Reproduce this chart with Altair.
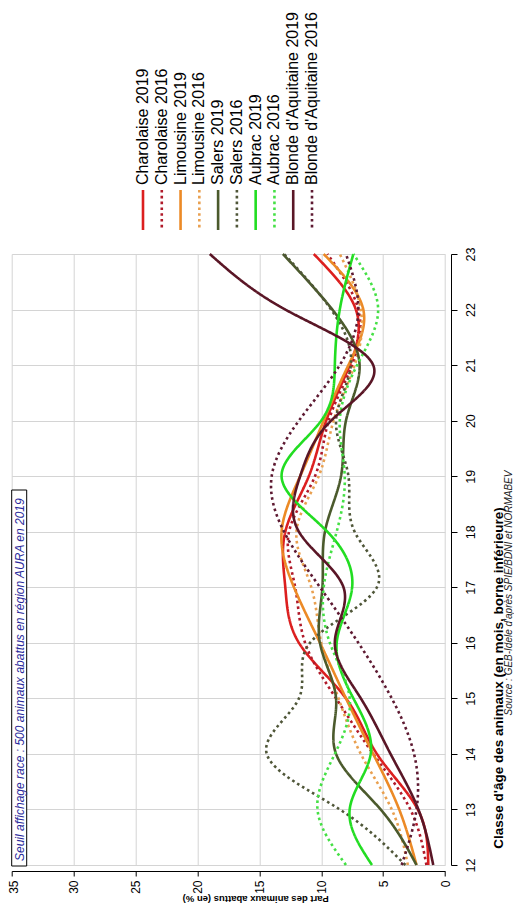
import altair as alt
import pandas as pd

# ---------------- data ----------------
ages = list(range(12, 24))
pct_ticks = [0, 5, 10, 15, 20, 25, 30, 35]

series_names = [
    "Charolaise 2019", "Charolaise 2016",
    "Limousine 2019", "Limousine 2016",
    "Salers 2019", "Salers 2016",
    "Aubrac 2019", "Aubrac 2016",
    "Blonde d'Aquitaine 2019", "Blonde d'Aquitaine 2016",
]

#                    12    13    14    15    16    17    18    19    20    21    22    23
charolaise_2019 = [1.35, 2.2, 5.5, 8.0, 11.8, 12.9, 12.9, 11.0, 9.6, 7.7, 7.2, 10.6]
charolaise_2016 = [1.5, 2.8, 5.8, 8.8, 11.3, 12.1, 12.6, 10.5, 9.4, 7.5, 7.0, 9.5]
limousine_2019 = [2.3, 3.7, 5.8, 8.0, 10.1, 12.2, 13.2, 11.7, 9.8, 7.8, 6.6, 9.8]
limousine_2016 = [3.0, 4.3, 6.8, 8.6, 10.0, 10.8, 12.0, 10.2, 9.0, 7.3, 6.8, 8.5]
salers_2019 = [2.3, 5.2, 8.8, 8.8, 10.1, 9.9, 9.7, 8.4, 8.0, 6.9, 9.1, 13.1]
salers_2016 = [3.2, 8.5, 14.4, 11.8, 10.9, 5.5, 7.3, 7.8, 8.8, 7.6, 9.2, 13.0]
aubrac_2019 = [5.9, 7.7, 6.0, 7.4, 8.75, 7.5, 9.5, 13.2, 10.0, 8.9, 8.5, 7.4]
aubrac_2016 = [8.0, 10.3, 8.9, 7.7, 9.3, 9.8, 8.75, 8.1, 8.5, 7.1, 5.4, 7.4]
blonde_2019 = [0.95, 2.15, 4.4, 6.8, 8.9, 8.2, 11.8, 11.7, 9.2, 5.8, 12.9, 19.0]
blonde_2016 = [3.5, 2.3, 2.5, 4.3, 7.0, 10.1, 13.0, 14.0, 11.8, 8.5, 7.0, 8.0]

all_values = [
    charolaise_2019, charolaise_2016, limousine_2019, limousine_2016,
    salers_2019, salers_2016, aubrac_2019, aubrac_2016, blonde_2019, blonde_2016,
]

series_colors = [
    "#dc1f1f", "#b01a2a",
    "#ec8a26", "#e9a050",
    "#4b5a2c", "#4f5638",
    "#22dd22", "#45e045",
    "#5a1626", "#5e1a32",
]
SOLID = [1, 0]
DOT = [2.6, 3.2]
series_dashes = [SOLID, DOT] * 5

annotation_text = "Seuil affichage race :  500 animaux abattus en région AURA en 2019"
y_title = "Classe d'âge des animaux (en mois, borne inférieure)"
x_title = "Part des animaux abattus (en %)"
source_text = "Source : GEB-Idele d'après SPIE/BDNI et NORMABEV"

rows = []
for name, vals in zip(series_names, all_values):
    for a, v in zip(ages, vals):
        rows.append({"serie": name, "age": a, "part": v})
df = pd.DataFrame(rows)

FONT = "Liberation Sans"
W, H = 433.3, 611

color_scale = alt.Scale(domain=series_names, range=series_colors)
dash_scale = alt.Scale(domain=series_names, range=series_dashes)

lines = alt.Chart(df).mark_line(interpolate="natural", strokeWidth=2.6).encode(
    x=alt.X(
        "part:Q",
        scale=alt.Scale(domain=[0, 35], reverse=True, nice=False, zero=True),
        axis=alt.Axis(
            orient="bottom", values=pct_ticks, title=None, offset=6,
            labelAngle=270, labelAlign="right", labelBaseline="middle",
            labelPadding=4, tickSize=5, labelFlush=False, labelOverlap=False,
            labelOffset={"condition": {"test": "datum.value == 35", "value": 1.5}, "value": 0},
            labelFont=FONT, labelFontSize=12, labelColor="black",
            domainColor="black", tickColor="black",
            grid=True, gridColor="#d4d4d4", gridWidth=1,
        ),
    ),
    y=alt.Y(
        "age:Q",
        scale=alt.Scale(domain=[12, 23], nice=False, zero=False),
        axis=alt.Axis(
            orient="right", values=ages, title=None, offset=6,
            labelAngle=270, labelAlign="center", labelBaseline="top",
            labelPadding=7, tickSize=6, labelFlush=False, labelOverlap=False,
            labelFont=FONT, labelFontSize=12.5, labelColor="black",
            domainColor="black", tickColor="black",
            grid=True, gridColor="#d4d4d4", gridWidth=1,
        ),
    ),
    color=alt.Color("serie:N", scale=color_scale, legend=None),
    strokeDash=alt.StrokeDash("serie:N", scale=dash_scale, legend=None),
    order=alt.Order("age:Q"),
    detail="serie:N",
)

leg_df = pd.DataFrame({"serie": series_names})
leg_x = alt.X(
    "serie:N",
    scale=alt.Scale(type="point", domain=series_names, range=[131.3, 300.3], padding=0),
    axis=None,
)

legend_rules = alt.Chart(leg_df).mark_rule(strokeWidth=2.6).encode(
    x=leg_x,
    y=alt.value(-64),
    y2=alt.value(-24),
    color=alt.Color("serie:N", scale=color_scale, legend=None),
    strokeDash=alt.StrokeDash("serie:N", scale=dash_scale, legend=None),
)

legend_text = alt.Chart(leg_df).mark_text(
    angle=270, align="left", baseline="middle", font=FONT, fontSize=16, color="black"
).encode(x=leg_x, y=alt.value(-69), text="serie:N")

annot_df = pd.DataFrame({"t": [annotation_text]})
box = alt.Chart(annot_df).mark_rect(fill="white", stroke="black", strokeWidth=1).encode(
    x=alt.value(0), x2=alt.value(15), y=alt.value(236), y2=alt.value(612)
)
annot = alt.Chart(annot_df).mark_text(
    angle=270, align="left", baseline="middle", font=FONT, fontSize=12,
    fontStyle="italic", color="#2b2b9c",
).encode(x=alt.value(7.8), y=alt.value(607), text="t:N")

title_df = pd.DataFrame({"yt": [y_title], "xt": [x_title], "src": [source_text]})
y_title_mark = alt.Chart(title_df).mark_text(
    angle=270, align="center", baseline="middle", font=FONT, fontSize=13.5,
    fontWeight="bold", color="black",
).encode(x=alt.value(487.5), y=alt.value(424), text="yt:N")
source_mark = alt.Chart(title_df).mark_text(
    angle=270, align="center", baseline="middle", font=FONT, fontSize=10,
    fontStyle="italic", color="#222222",
).encode(x=alt.value(497.5), y=alt.value(339), text="src:N")
x_title_mark = alt.Chart(title_df).mark_text(
    angle=180, align="center", baseline="middle", font=FONT, fontSize=9.5,
    fontWeight="bold", color="black",
).encode(x=alt.value(244), y=alt.value(645), text="xt:N")

chart = (
    alt.layer(lines, legend_rules, legend_text, box, annot, y_title_mark, source_mark, x_title_mark)
    .resolve_scale(x="independent")
    .properties(
        width=W,
        height=H,
        autosize=alt.AutoSizeParams(type="none"),
        padding={"left": 3.7, "top": 246, "right": 69, "bottom": 40},
        background="white",
    )
    .configure_view(stroke=None)
)

chart.save("out.html", embed_options={"renderer": "svg", "actions": False})
